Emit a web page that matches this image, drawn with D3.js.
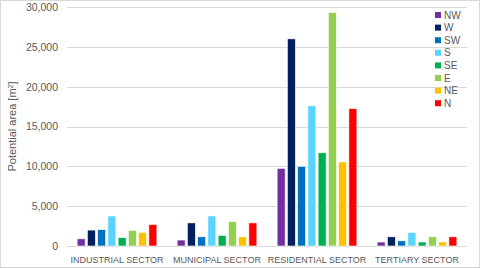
<!DOCTYPE html>
<html>
<head>
<meta charset="utf-8">
<script src="https://cdn.jsdelivr.net/npm/d3@7"></script>
<style>
  body { margin: 0; background: #fff; }
  svg text { font-family: "Liberation Sans", "Noto Sans", sans-serif; fill: #595959; }
</style>
</head>
<body>
<div id="chart"></div>
<script>
var sectors = ['INDUSTRIAL SECTOR', 'MUNICIPAL SECTOR', 'RESIDENTIAL SECTOR', 'TERTIARY SECTOR'];
var directions = ['NW', 'W', 'SW', 'S', 'SE', 'E', 'NE', 'N'];
var colors = ['#7030A0', '#002060', '#0070C0', '#5BD3FF', '#00B050', '#92D050', '#FFC000', '#FF0000'];

// one array per direction, values per sector
var NW = [900, 750, 9750, 500];
var W  = [2000, 2900, 26000, 1150];
var SW = [2050, 1150, 10000, 650];
var S  = [3770, 3770, 17600, 1700];
var SE = [1050, 1330, 11700, 500];
var E  = [1950, 3050, 29300, 1150];
var NE = [1700, 1150, 10550, 500];
var N  = [2700, 2900, 17250, 1150];
var series = [NW, W, SW, S, SE, E, NE, N];

var yTicks = [0, 5000, 10000, 15000, 20000, 25000, 30000];

(function () {
    var w = 480, h = 269;
    var plotL = 67, plotR = 467, plotT = 7, plotB = 246;

    var svg = d3.select('#chart').append('svg')
        .attr('width', w)
        .attr('height', h);

    svg.append('rect')
        .attr('x', 0.5).attr('y', 0.5)
        .attr('width', w - 1).attr('height', 267)
        .attr('fill', '#fff')
        .attr('stroke', '#d9d9d9');

    var x0 = d3.scaleBand().domain(sectors).range([plotL, plotR])
        .paddingInner(0.18).paddingOuter(0.09);
    var x1 = d3.scaleBand().domain(directions).range([0, x0.bandwidth()])
        .paddingInner(0.22).paddingOuter(0.11);
    var y = d3.scaleLinear().domain([0, 30000]).range([plotB, plotT]);

    // gridlines
    svg.append('g')
        .selectAll('line')
        .data(yTicks)
        .join('line')
        .attr('x1', plotL).attr('x2', plotR)
        .attr('y1', function (d) { return Math.round(y(d)) + 0.5; })
        .attr('y2', function (d) { return Math.round(y(d)) + 0.5; })
        .attr('stroke', '#d9d9d9');

    // y axis labels
    var yAxis = svg.append('g')
        .attr('transform', 'translate(' + (plotL - 9) + ',0)')
        .call(d3.axisLeft(y).tickValues(yTicks).tickSize(0).tickPadding(0).tickFormat(d3.format(',')));
    yAxis.select('.domain').remove();
    yAxis.selectAll('text')
        .attr('font-family', null)
        .style('font-size', '10.5px')
        .attr('fill', '#595959');

    // y title
    var title = svg.append('text')
        .attr('transform', 'translate(16,' + ((plotT + plotB) / 2) + ') rotate(-90)')
        .attr('text-anchor', 'middle')
        .style('font-size', '11px');
    title.append('tspan').text('Potential area [m');
    title.append('tspan').attr('baseline-shift', 'super').style('font-size', '7px').text('2');
    title.append('tspan').text(']');

    // bars
    var groups = svg.append('g')
        .selectAll('g')
        .data(sectors)
        .join('g')
        .attr('transform', function (d) { return 'translate(' + x0(d) + ',0)'; });

    groups.selectAll('rect')
        .data(function (d, i) {
            return directions.map(function (dir, j) {
                return { dir: dir, value: series[j][i], color: colors[j] };
            });
        })
        .join('rect')
        .attr('x', function (d) { return x1(d.dir); })
        .attr('width', x1.bandwidth())
        .attr('y', function (d) { return y(d.value); })
        .attr('height', function (d) { return y(0) - y(d.value); })
        .attr('fill', function (d) { return d.color; })
        .attr('stroke', '#fff')
        .attr('stroke-width', 0.6);

    // x axis labels
    var xAxis = svg.append('g')
        .attr('transform', 'translate(0,263)')
        .call(d3.axisBottom(x0).tickSize(0).tickPadding(0));
    xAxis.select('.domain').remove();
    xAxis.selectAll('text')
        .attr('font-family', null)
        .attr('dy', 0)
        .style('font-size', '9px')
        .attr('fill', '#595959');

    // legend
    var legend = svg.append('g')
        .selectAll('g')
        .data(directions)
        .join('g')
        .attr('transform', function (d, i) { return 'translate(435,' + (15 + i * 12.6) + ')'; });

    legend.append('rect')
        .attr('x', 0).attr('y', -3)
        .attr('width', 6).attr('height', 6)
        .attr('fill', function (d, i) { return colors[i]; });

    legend.append('text')
        .attr('x', 9).attr('y', 0)
        .attr('dy', '0.35em')
        .style('font-size', '10px')
        .text(function (d) { return d; });
})();
</script>
</body>
</html>
